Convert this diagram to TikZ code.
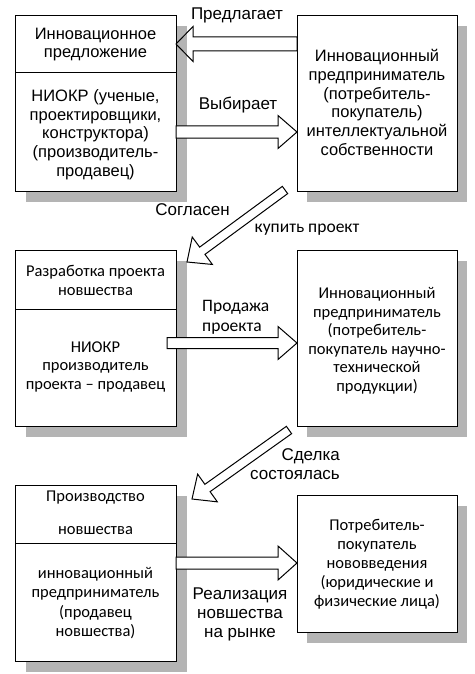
\documentclass[tikz,border=0pt]{standalone}
\usepackage{fontspec}
\setmainfont{Liberation Sans}
\newfontfamily\calfont{Carlito}
\usetikzlibrary{calc}
\definecolor{shadowgray}{HTML}{B4B4B4}
\tikzset{
  box/.style={draw=black, line width=1pt, fill=white, inner sep=0pt, anchor=north west},
  txt/.style={align=center, inner sep=0pt, font=\fontsize{16.5}{18.7}\selectfont},
  ctxt/.style={align=center, inner sep=0pt, font=\calfont\fontsize{16.5}{18.5}\selectfont},
  lbl/.style={inner sep=0pt, font=\fontsize{17}{19}\selectfont},
  clbl/.style={inner sep=0pt, font=\calfont\fontsize{17.5}{19.5}\selectfont},
  blk/.style={draw=black, line width=1pt, fill=white, line join=miter},
  blkopen/.style={draw=black, line width=1pt, line join=miter},
}
\newcommand\blockarrow[6][blk]{%
  \coordinate (hb) at ($(#3)!#6!(#2)$);
  \draw[#1] ($(#2)!#4!90:(#3)$) -- ($(hb)!#4!90:(#3)$) -- ($(hb)!#5!90:(#3)$) -- (#3)
    -- ($(hb)!#5!-90:(#3)$) -- ($(hb)!#4!-90:(#3)$) -- ($(#2)!#4!-90:(#3)$) -- cycle;}
\begin{document}
\begin{tikzpicture}[x=1pt,y=-1pt]
\useasboundingbox (0,0) rectangle (474,674);
\fill[white] (0,0) rectangle (474,674);
% shadows
\fill[shadowgray] (26,26) rectangle (187,202);
\fill[shadowgray] (307,26) rectangle (467,202);
\fill[shadowgray] (26,261) rectangle (187,437);
\fill[shadowgray] (307,261) rectangle (467,437);
\fill[shadowgray] (26,496) rectangle (187,672);
\fill[shadowgray] (307,506) rectangle (467,643);
% boxes
\node[box, minimum width=161pt, minimum height=176pt] (b1) at (15,15) {};
\node[box, minimum width=160pt, minimum height=176pt] (b2) at (297,15) {};
\node[box, minimum width=161pt, minimum height=176pt] (b3) at (15,250) {};
\node[box, minimum width=160pt, minimum height=176pt] (b4) at (297,250) {};
\node[box, minimum width=161pt, minimum height=176pt] (b5) at (15,485) {};
\node[box, minimum width=160pt, minimum height=137pt] (b6) at (297,495) {};
% dividers
\coordinate (d1) at (0,73);
\coordinate (d3) at (0,309);
\coordinate (d5) at (0,543);
\draw[line width=1pt] (b1.west |- d1) -- (b1.east |- d1);
\draw[line width=1pt] (b3.west |- d3) -- (b3.east |- d3);
\draw[line width=1pt] (b5.west |- d5) -- (b5.east |- d5);
% box texts
\node[txt] (t1a) at (95.5,44.5) {Инновационное\\предложение};
\node[txt] (t1b) at (95.5,134.5) {НИОКР (ученые,\\проектировщики,\\конструктора)\\(производитель-\\продавец)};
\node[txt] (t2) at (377,102.5) {Инновационный\\предприниматель\\(потребитель-\\покупатель)\\интеллектуальной\\собственности};
\node[ctxt] (t3a) at (95.5,280.5) {Разработка проекта\\новшества};
\node[ctxt] (t3b) at (95.5,366.5) {НИОКР\\производитель\\проекта – продавец};
\node[ctxt] (t4) at (377,341) {Инновационный\\предприниматель\\(потребитель-\\покупатель научно-\\технической\\продукции)};
\node[ctxt] (t5a) at (95.5,498) {Производство};
\node[ctxt] (t5b) at (95.5,531) {новшества};
\node[ctxt, font=\calfont\fontsize{16.5}{19.3}\selectfont] (t5c) at (95.5,603) {инновационный\\предприниматель\\(продавец\\новшества)};
\node[ctxt, font=\calfont\fontsize{16.5}{19}\selectfont] (t6) at (377,564) {Потребитель-\\покупатель\\нововведения\\(юридические и\\физические лица)};
% arrows
\coordinate (p1s) at (297,44);   \coordinate (p1e) at (176,44);
\coordinate (p2s) at (176,132);  \coordinate (p2e) at (297,132);
\coordinate (p3s) at (285,190);  \coordinate (p3e) at (187,262);
\coordinate (p4s) at (167,343);  \coordinate (p4e) at (297,343);
\coordinate (p5s) at (289,430);  \coordinate (p5e) at (192,499);
\coordinate (p6s) at (176,563);  \coordinate (p6e) at (297,563);
\blockarrow[blkopen]{p1s}{p1e}{7pt}{17.5pt}{17pt}
\blockarrow{p2s}{p2e}{6pt}{16.5pt}{19pt}
\blockarrow{p3s}{p3e}{4.5pt}{17pt}{19pt}
\blockarrow{p4s}{p4e}{5.5pt}{16.5pt}{19pt}
\blockarrow{p5s}{p5e}{4.5pt}{17pt}{19pt}
\blockarrow{p6s}{p6e}{6pt}{17pt}{19pt}
% labels
\node[lbl] (l1) at (237,15) {Предлагает};
\node[lbl] (l2) at (238,105) {Выбирает};
\node[lbl] (l3) at (192.5,210) {Согласен};
\node[clbl] (l4) at (307,230) {купить проект};
\node[clbl, align=left, anchor=west, font=\calfont\fontsize{17.5}{20}\selectfont] (l5) at (202,317) {Продажа\\проекта};
\node[lbl, align=right, anchor=east] (l6) at (340,464.5) {Сделка\\состоялась};
\node[lbl, align=center] (l7) at (240,614) {Реализация\\новшества\\на рынке};
\end{tikzpicture}
\end{document}
